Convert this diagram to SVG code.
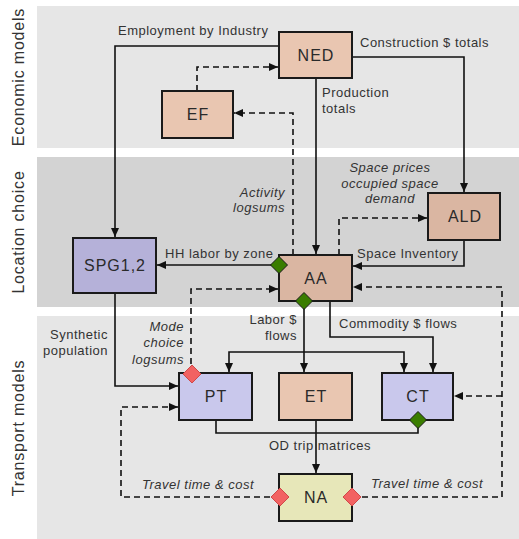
<svg xmlns="http://www.w3.org/2000/svg" width="519" height="539" viewBox="0 0 519 539">
<defs>
<marker id="arr" markerUnits="userSpaceOnUse" markerWidth="10" markerHeight="10" refX="9" refY="4" orient="auto">
<path d="M0,0 L9,4 L0,8 z" fill="#111"/>
</marker>
<style>
.band1{fill:#e6e6e6}
.band2{fill:#d3d3d3}
.side{font-family:"Liberation Sans",Arial,sans-serif;font-size:16px;letter-spacing:0.8px;fill:#333;text-anchor:middle}
.node rect{stroke:#1a1a1a;stroke-width:2}
.nl{font-family:"Liberation Sans",Arial,sans-serif;font-size:16px;letter-spacing:1px;fill:#2a2a2a;text-anchor:middle}
.lb{font-family:"Liberation Sans",Arial,sans-serif;font-size:13px;letter-spacing:0.5px;fill:#333}
.it{font-style:italic}
.s{fill:none;stroke:#111;stroke-width:1.6}
.d{fill:none;stroke:#111;stroke-width:1.6;stroke-dasharray:6,4}
.a{marker-end:url(#arr)}
.g{fill:#3a7d00;stroke:#1a1a1a;stroke-width:1}
.r{fill:#f26262;stroke:#d04848;stroke-width:1}
.econ{fill:#e9c6b1}
.loc{fill:#dab6a2}
.tr{fill:#c9c8ec}
.spg{fill:#b5b1d9}
.na{fill:#e7e7b9}
</style>
</defs>
<g id="bands">
<rect class="band1" x="37" y="6" width="482" height="142"/>
<rect class="band2" x="37" y="157" width="482" height="150"/>
<rect class="band1" x="37" y="316" width="482" height="223"/>
<text class="side" transform="translate(24,77) rotate(-90)">Economic models</text>
<text class="side" transform="translate(24,232) rotate(-90)">Location choice</text>
<text class="side" transform="translate(24,428) rotate(-90)">Transport models</text>
</g>
<g id="connectors">
<path class="s a" d="M279,46 H115 V237"/>
<path class="d a" d="M197,91 V67 H278"/>
<path class="d a" d="M293,255 V113 H234"/>
<path class="s a" d="M316,78 V254"/>
<path class="s a" d="M352,57 H464 V192"/>
<path class="d a" d="M339,255 V218 H427"/>
<path class="s a" d="M464,240 V266 H353"/>
<path class="s a" d="M279,265 H157"/>
<path class="d a" d="M191,374 V289 H278"/>
<path class="d a" d="M352,497 H502 V287 H353"/>
<path class="d a" d="M502,396 H454"/>
<path class="d a" d="M280,497 H121 V407 H178"/>
<path class="s a" d="M115,293 V386 H178"/>
<path class="s a" d="M304,301 V372"/>
<path class="s a" d="M304,352 H229 V372"/>
<path class="s a" d="M304,352 H404 V372"/>
<path class="s a" d="M330,301 V337 H433 V372"/>
<path class="s" d="M216,420 V433 H418 V420"/>
<path class="s a" d="M316,420 V473"/>
<text class="lb" x="118" y="35">Employment by Industry</text>
<text class="lb" x="360" y="47">Construction $ totals</text>
<text class="lb" x="322" y="97">Production</text>
<text class="lb" x="322" y="113">totals</text>
<text class="lb it" x="285" y="197" text-anchor="end">Activity</text>
<text class="lb it" x="285" y="212" text-anchor="end">logsums</text>
<text class="lb it" x="390" y="172" text-anchor="middle">Space prices</text>
<text class="lb it" x="390" y="188" text-anchor="middle">occupied space</text>
<text class="lb it" x="390" y="203" text-anchor="middle">demand</text>
<text class="lb" x="357" y="258">Space Inventory</text>
<text class="lb" x="165" y="258">HH labor by zone</text>
<text class="lb" x="108" y="339" text-anchor="end">Synthetic</text>
<text class="lb" x="108" y="355" text-anchor="end">population</text>
<text class="lb it" x="184" y="331" text-anchor="end">Mode</text>
<text class="lb it" x="184" y="347" text-anchor="end">choice</text>
<text class="lb it" x="184" y="364" text-anchor="end">logsums</text>
<text class="lb" x="297" y="324" text-anchor="end">Labor $</text>
<text class="lb" x="297" y="340" text-anchor="end">flows</text>
<text class="lb" x="339" y="328">Commodity $ flows</text>
<text class="lb" x="269" y="450">OD trip matrices</text>
<text class="lb it" x="142" y="489">Travel time &amp; cost</text>
<text class="lb it" x="371" y="488">Travel time &amp; cost</text>
</g>
<g id="NED" class="node"><rect class="econ" x="279" y="32" width="73" height="46"/><text class="nl" x="316" y="61">NED</text></g>
<g id="EF" class="node"><rect class="econ" x="162" y="91" width="71" height="47"/><text class="nl" x="198" y="120">EF</text></g>
<g id="SPG" class="node"><rect class="spg" x="73" y="238" width="83" height="55"/><text class="nl" x="115" y="271">SPG1,2</text></g>
<g id="ALD" class="node"><rect class="loc" x="428" y="193" width="72" height="47"/><text class="nl" x="465" y="222">ALD</text></g>
<g id="AA" class="node"><rect class="loc" x="279" y="255" width="73" height="46"/><text class="nl" x="316" y="284">AA</text><path class="g" d="M279,256.5 l8.5,8.5 l-8.5,8.5 l-8.5,-8.5 z"/><path class="g" d="M304,292.5 l8.5,8.5 l-8.5,8.5 l-8.5,-8.5 z"/></g>
<g id="PT" class="node"><rect class="tr" x="179" y="373" width="73" height="47"/><text class="nl" x="216" y="402">PT</text><path class="r" d="M192,365 l9,9 l-9,9 l-9,-9 z"/></g>
<g id="ET" class="node"><rect class="econ" x="279" y="373" width="73" height="47"/><text class="nl" x="316" y="402">ET</text></g>
<g id="CT" class="node"><rect class="tr" x="382" y="373" width="71" height="47"/><text class="nl" x="418" y="402">CT</text><path class="g" d="M418,411.5 l8.5,8.5 l-8.5,8.5 l-8.5,-8.5 z"/></g>
<g id="NA" class="node"><rect class="na" x="279" y="474" width="73" height="47"/><text class="nl" x="316" y="503">NA</text><path class="r" d="M280,488 l9,9 l-9,9 l-9,-9 z"/><path class="r" d="M352,488 l9,9 l-9,9 l-9,-9 z"/></g>
</svg>
